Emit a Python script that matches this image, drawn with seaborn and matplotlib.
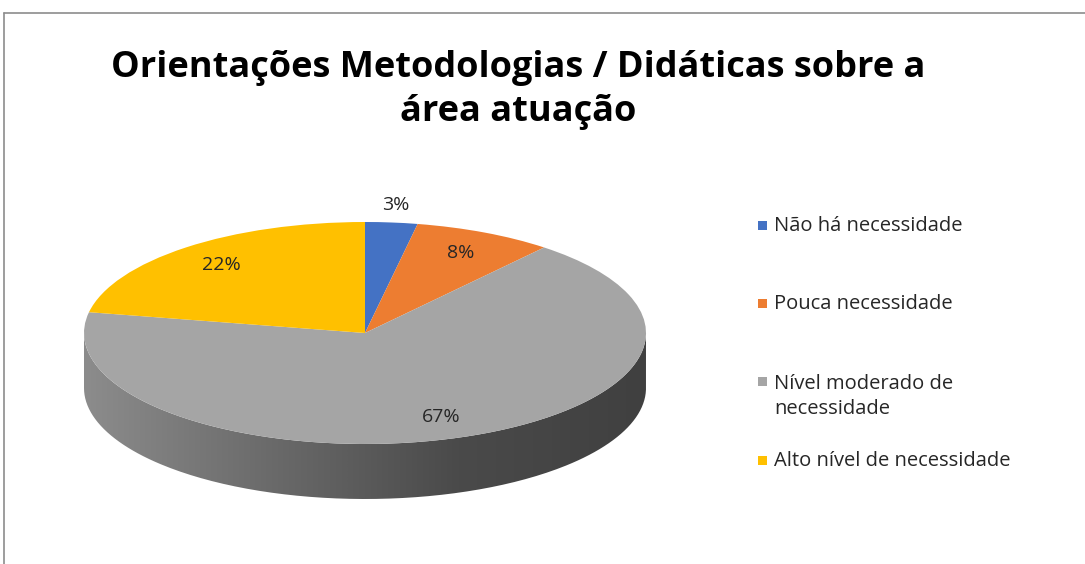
import numpy as np
import matplotlib.pyplot as plt
import matplotlib.patches as mpatches
from matplotlib.path import Path
import seaborn as sns

# Data
categories = ["Não há necessidade", "Pouca necessidade",
              "Nível moderado de\nnecessidade", "Alto nível de necessidade"]
values = [3, 8, 67, 22]
colors = ["#4472C4", "#ED7D31", "#A5A5A5", "#FFC000"]
title = "Orientações Metodologias / Didáticas sobre a\nárea atuação"

sns.set_theme(style="white")
plt.rcParams['font.family'] = ['Open Sans', 'DejaVu Sans']

W, H = 1085, 564
fig = plt.figure(figsize=(W / 100, H / 100), dpi=100)

# pie geometry in pixels (ellipse centre, radii, thickness)
cx, cy, rx, ry, depth = 365, 333, 281, 111, 55
d = depth / ry
ax = fig.add_axes([(cx - rx) / W, (H - (cy + ry + depth)) / H,
                   2 * rx / W, (2 * ry + depth) / H])

wedges, texts, autotexts = ax.pie(
    values, colors=colors, startangle=90, counterclock=False,
    autopct='%1.0f%%', pctdistance=0.8, frame=False,
    wedgeprops=dict(linewidth=0, zorder=3),
    textprops=dict(fontsize=14, color="#262626", zorder=5))
ax.set_aspect('auto')
ax.set_xlim(-1, 1)
ax.set_ylim(-1 - d, 1)
ax.axis('off')

# small slice label sits outside the pie
for w, t in zip(wedges, autotexts):
    mid = np.deg2rad((w.theta1 + w.theta2) / 2)
    if w.theta2 - w.theta1 < 15:
        t.set_position((1.16 * np.cos(mid), 1.16 * np.sin(mid)))

# side of the pie (front half), shaded with a horizontal gradient
t = np.linspace(np.pi, 2 * np.pi, 200)
top = np.column_stack([np.cos(t), np.sin(t)])
bot = np.column_stack([np.cos(t[::-1]), np.sin(t[::-1]) - d])
verts = np.vstack([top, bot, top[:1]])
side = mpatches.PathPatch(Path(verts), facecolor='none', edgecolor='none')
ax.add_patch(side)
grad = np.linspace(0, 1, 256).reshape(1, -1)
cmap = plt.matplotlib.colors.LinearSegmentedColormap.from_list(
    "side", ["#8c8c8c", "#6a6a6a", "#4a4a4a", "#404040"])
im = ax.imshow(grad, extent=[-1, 1, -1 - d, 0], aspect='auto',
               cmap=cmap, zorder=1, interpolation='bicubic')
im.set_clip_path(side)

# title
fig.text(0.478, 1 - 90 / H, title, ha='center', va='center', fontsize=26,
         fontweight='bold', color='black', linespacing=1.3)

# legend
leg_y = [226, 304, 382, 461]
for cat, col, y in zip(categories, colors, leg_y):
    fig.patches.append(mpatches.Rectangle(
        (758 / W, 1 - (y + 4) / H), 9 / W, 9 / H, transform=fig.transFigure,
        facecolor=col, edgecolor='none'))
    if '\n' in cat:
        fig.text(774 / W, 1 - (y - 8) / H, cat, ha='left', va='top',
                 fontsize=14.5, color='#262626', linespacing=1.3)
    else:
        fig.text(774 / W, 1 - y / H, cat, ha='left', va='center',
                 fontsize=14.5, color='#262626')

# chart border (top and left visible)
fig.add_artist(plt.Line2D([4 / W, 1], [1 - 13 / H, 1 - 13 / H],
                          transform=fig.transFigure, color='#8c8c8c', lw=1.2))
fig.add_artist(plt.Line2D([4 / W, 4 / W], [0, 1 - 13 / H],
                          transform=fig.transFigure, color='#8c8c8c', lw=1.2))

fig.savefig("out.png", dpi=100, facecolor='white')
